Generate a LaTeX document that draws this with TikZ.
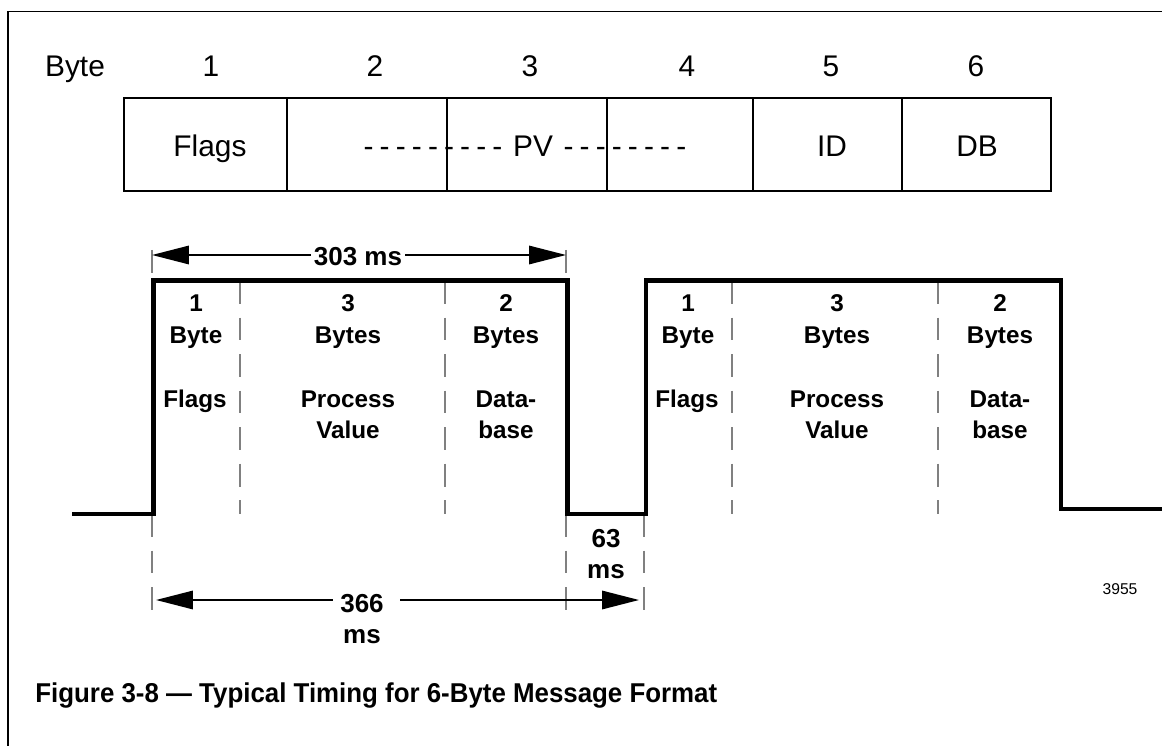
\documentclass[tikz,border=0pt]{standalone}
\usepackage{fontspec}
\usepackage{graphicx}
\setmainfont{Liberation Sans}
\usetikzlibrary{arrows.meta}
\begin{document}
\begin{tikzpicture}[x=0.02cm,y=-0.02cm,
  framel/.style={line width=1.1pt,black},
  cell/.style={draw,line width=1.1pt,inner sep=0pt,minimum height=1.86cm,anchor=north west},
  toplab/.style={font=\fontsize{17}{20}\selectfont,anchor=base,inner sep=0pt},
  plab/.style={font=\fontsize{13.8}{16}\selectfont\bfseries,anchor=base,inner sep=0pt},
  dimlab/.style={font=\fontsize{14.8}{17}\selectfont\bfseries,anchor=base,inner sep=0pt},
  wave/.style={line width=2.8pt,line join=miter},
  guide/.style={draw={rgb,255:red,128;green,128;blue,128}, line width=1pt, dash pattern=on 13pt off 7.8pt},
  dimarrow/.style={line width=0.9pt,-{Triangle[length=21pt,width=10.5pt]}},
]
\useasboundingbox (0,0) rectangle (1162,746);

% frame
\coordinate (fTL) at (8,11.5);
\coordinate (fTR) at (1162,11.5);
\coordinate (fBL) at (8,746);
\draw[framel] (fTR) -- (fTL) -- (fBL);

% byte header
\node[toplab] (hByte) at (75,77) {Byte};
\node[toplab] (h1) at (211,77) {1};
\node[toplab] (h2) at (375,77) {2};
\node[toplab] (h3) at (530,77) {3};
\node[toplab] (h4) at (687,77) {4};
\node[toplab] (h5) at (831,77) {5};
\node[toplab] (h6) at (976,77) {6};

% byte table
\node[cell,minimum width=3.26cm] (c1) at (123,97) {};
\node[cell,minimum width=3.2cm] (c2) at (286,97) {};
\node[cell,minimum width=3.2cm] (c3) at (446,97) {};
\node[cell,minimum width=2.92cm] (c4) at (606,97) {};
\node[cell,minimum width=2.98cm] (c5) at (752,97) {};
\node[cell,minimum width=2.98cm] (c6) at (901,97) {};

\node[toplab] (tFlags) at (210,157) {Flags};
\node[toplab] (tPV) at (533,157) {PV};
\node[toplab,anchor=base east] (tDL) at ([xshift=-0.2cm]tPV.base west) {\spaceskip=3.5pt\relax - - - - - - - - -};
\node[toplab,anchor=base west] (tDR) at ([xshift=0.2cm]tPV.base east) {\spaceskip=3.5pt\relax - - - - - - - -};
\node[toplab] (tID) at (832,157) {ID};
\node[toplab] (tDB) at (977,157) {DB};

% guides
\foreach \gx/\ga/\gb in {152/250/274, 152/514/611, 566/250/274, 566/514/611, 644/514/611,
                         240/281/514, 445/281/514, 732/281/514, 938/281/514}{
  \coordinate (gs) at (\gx,\ga);
  \coordinate (ge) at (\gx,\gb);
  \draw[guide] (gs) -- (ge);
}

% waveform
\coordinate (w0) at (72,514);
\coordinate (w1) at (153.5,514);
\coordinate (w2) at (153.5,280.5);
\coordinate (w3) at (567.5,280.5);
\coordinate (w4) at (567.5,514);
\coordinate (w5) at (646,514);
\coordinate (w6) at (646,280.5);
\coordinate (w7) at (1061,280.5);
\coordinate (w8) at (1061,509);
\coordinate (w9) at (1162,509);
\draw[wave] (w0) -- (w1) -- (w2) -- (w3) -- (w4) -- (w5) -- (w6) -- (w7) -- (w8) -- (w9);

% pulse labels, pulse 1
\node[plab] (p1an) at (196,312) {1};
\node[plab] (p1au) at (196,343) {Byte};
\node[plab] (p1aa) at (195,407) {Flags};
\node[plab] (p1bn) at (348,312) {3};
\node[plab] (p1bu) at (348,343) {Bytes};
\node[plab] (p1ba) at (348,407) {Process};
\node[plab] (p1bb) at (348,438) {Value};
\node[plab] (p1cn) at (506,312) {2};
\node[plab] (p1cu) at (506,343) {Bytes};
\node[plab] (p1ca) at (506,407) {Data-};
\node[plab] (p1cb) at (506,438) {base};
% pulse 2
\node[plab] (p2an) at (688,312) {1};
\node[plab] (p2au) at (688,343) {Byte};
\node[plab] (p2aa) at (687,407) {Flags};
\node[plab] (p2bn) at (837,312) {3};
\node[plab] (p2bu) at (837,343) {Bytes};
\node[plab] (p2ba) at (837,407) {Process};
\node[plab] (p2bb) at (837,438) {Value};
\node[plab] (p2cn) at (1000,312) {2};
\node[plab] (p2cu) at (1000,343) {Bytes};
\node[plab] (p2ca) at (1000,407) {Data-};
\node[plab] (p2cb) at (1000,438) {base};

% 303 ms dimension
\coordinate (a303L) at (152,255);
\coordinate (a303R) at (566,255);
\node[dimlab,anchor=center,fill=white,inner sep=1.5pt] (d303) at (358,257) {303 ms};
\draw[dimarrow] (d303.west |- a303L) -- (a303L);
\draw[dimarrow] (d303.east |- a303R) -- (a303R);

% 63 ms
\node[dimlab] (d63) at (606,547) {63};
\node[dimlab] (d63ms) at (606,578) {ms};

% 366 ms dimension
\coordinate (a366L) at (156,600);
\coordinate (a366M) at (400,600);
\coordinate (a366R) at (639,600);
\node[dimlab] (d366) at (362,612) {366};
\node[dimlab] (d366ms) at (362,643) {ms};
\draw[dimarrow] ([xshift=-0.14cm]d366.west |- a366L) -- (a366L);
\draw[dimarrow] (a366M) -- (a366R);

% figure number
\node[font=\fontsize{8.9}{10}\selectfont,anchor=base,inner sep=0pt] (fignum) at (1120,594) {3955};

% caption
\node[anchor=base west,inner sep=0pt,font=\fontsize{15.5}{18}\selectfont\bfseries] (cap) at (35,702)
  {\scalebox{0.95}[1]{Figure 3-8 — Typical Timing for 6-Byte Message Format}};
\end{tikzpicture}
\end{document}
